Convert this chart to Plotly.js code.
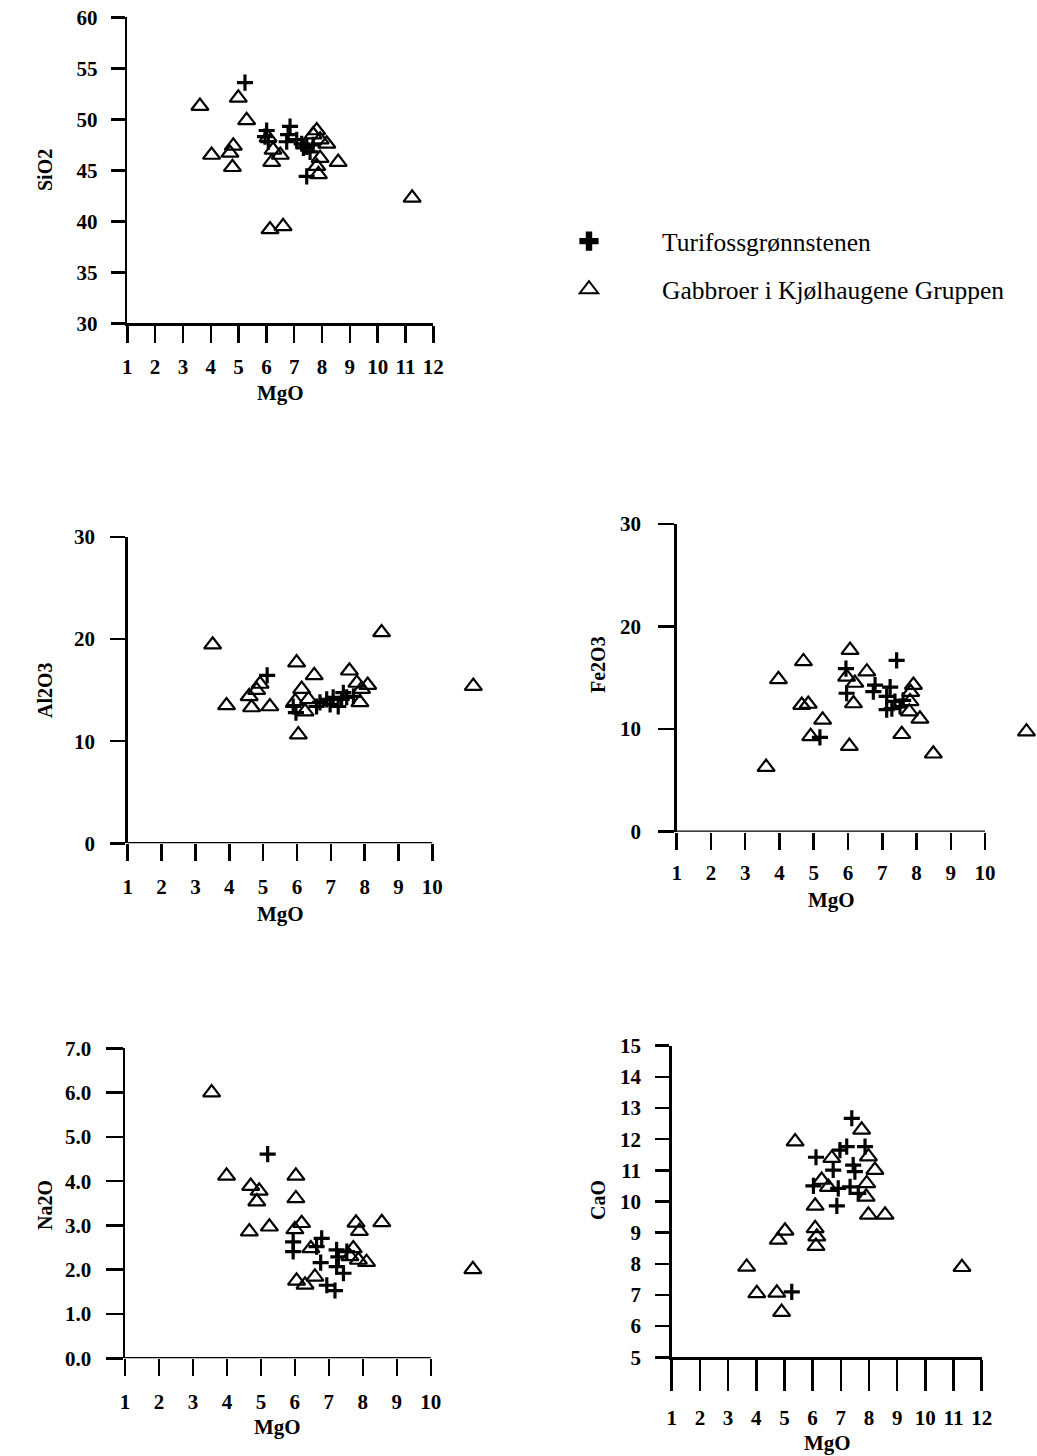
<!DOCTYPE html>
<html><head><meta charset="utf-8">
<script src="https://cdn.plot.ly/plotly-3.0.1.min.js"></script>
<style>html,body{margin:0;padding:0;background:#fff}</style>
</head><body><div id="chart" style="width:1037px;height:1456px"></div>
<script>
// ---------- DATA ----------
// x values are MgO (wt%)
const sio2TriMgO = [3.61,4.99,5.29,4.03,4.81,4.69,4.78,6.06,6.24,6.50,6.19,6.13,6.60,7.81,7.68,7.93,8.17,7.93,7.81,7.87,8.58,11.24];
const sio2Tri    = [51.3,52.1,49.9,46.5,47.4,46.7,45.3,48.2,47.0,46.5,45.8,39.2,39.5,48.9,48.5,48.0,47.6,46.2,45.4,44.6,45.8,42.3];
const sio2PlusMgO = [5.23,6.01,5.95,6.07,6.85,6.78,6.73,7.09,7.27,7.45,7.68,7.33,7.57,7.45];
const sio2Plus    = [53.6,48.9,48.3,47.8,49.3,48.5,47.8,48.0,47.6,47.3,47.5,47.2,46.8,44.4];

const al2o3TriMgO = [3.51,3.92,4.66,4.59,4.81,4.91,5.20,5.99,6.04,6.14,6.34,6.24,6.51,5.95,7.55,7.77,8.09,7.91,7.86,8.50,11.21];
const al2o3Tri    = [19.45,13.5,13.3,14.4,15.0,15.6,13.4,17.7,10.65,15.1,14.1,12.9,16.45,13.9,16.9,15.7,15.5,15.1,13.8,20.65,15.4];
const al2o3PlusMgO = [5.12,5.89,5.97,6.58,6.68,6.88,6.98,7.07,7.22,7.32,7.37,7.47,7.67];
const al2o3Plus    = [16.45,13.4,12.8,13.4,13.8,14.1,13.6,14.3,13.4,14.1,14.75,14.3,14.4];

const fe2o3TriMgO = [3.61,3.97,4.70,4.65,4.84,4.91,5.26,6.06,5.96,6.20,6.16,6.04,6.55,7.91,7.83,7.81,7.79,8.10,7.57,8.49,11.21];
const fe2o3Tri    = [6.3,14.85,16.6,12.35,12.45,9.3,10.9,17.7,15.1,14.5,12.5,8.35,15.6,14.3,13.6,12.7,11.7,11.0,9.5,7.6,9.75];
const fe2o3PlusMgO = [7.42,5.94,5.96,6.79,6.74,7.23,7.13,7.37,7.28,7.52,7.61,5.18,7.13];
const fe2o3Plus    = [16.7,15.9,13.5,14.3,13.65,14.1,13.2,12.7,12.0,12.2,12.8,9.2,11.9];

const na2oTriMgO = [3.55,3.99,4.70,4.95,4.88,4.66,5.25,6.03,6.03,6.00,6.20,6.05,6.30,6.59,6.47,7.80,7.90,8.56,7.72,7.62,7.87,8.11,11.24];
const na2oTri    = [6.0,4.12,3.89,3.78,3.54,2.86,2.97,4.12,3.61,2.91,3.05,1.75,1.66,1.84,2.48,3.06,2.87,3.07,2.48,2.30,2.22,2.17,2.01];
const na2oPlusMgO = [5.20,5.95,5.95,6.79,6.64,6.76,7.23,7.28,7.53,7.23,7.43,6.94,7.18];
const na2oPlus    = [4.61,2.63,2.41,2.71,2.52,2.16,2.45,2.29,2.41,2.07,1.92,1.65,1.53];

const caoTriMgO = [3.66,4.02,4.73,4.90,4.78,5.02,5.38,6.09,6.09,6.15,6.12,6.32,6.56,6.68,7.74,7.98,8.21,7.92,7.90,7.98,8.57,11.30];
const caoTri    = [7.9,7.05,7.07,6.45,8.77,9.06,11.92,9.86,9.14,8.87,8.57,10.69,10.46,11.39,12.3,11.44,11.01,10.58,10.15,9.57,9.57,7.89];
const caoPlusMgO = [7.39,6.12,6.97,7.21,7.86,6.73,7.44,7.50,6.03,6.91,7.33,7.62,6.86,5.26];
const caoPlus    = [12.67,11.42,11.65,11.76,11.76,11.01,11.17,10.96,10.5,10.42,10.47,10.26,9.86,7.1];

const seriesNames = ['Turifossgrønnstenen', 'Gabbroer i Kjølhaugene Gruppen'];
const mgoTicks12 = [1,2,3,4,5,6,7,8,9,10,11,12];
const mgoTicks10 = [1,2,3,4,5,6,7,8,9,10];
const sio2Ticks = [30,35,40,45,50,55,60];
const tens = [0,10,20,30];
const na2oTicks = [0,1,2,3,4,5,6,7];
const caoTicks = [5,6,7,8,9,10,11,12,13,14,15];

// ---------- STYLE ----------
const W = 1037, H = 1456;
const SERIF = 'Liberation Serif, Times New Roman, serif';
const BLACK = '#000';
const tickFont = {family: SERIF, size: 21, color: BLACK, weight: 'bold'};

function tri(x, y, n) {
  return {type:'scatter', mode:'markers', x:x, y:y, xaxis:'x'+n, yaxis:'y'+n,
    showlegend:false, cliponaxis:false, hoverinfo:'skip',
    marker:{symbol:'triangle-up-open', size:15, color:BLACK, line:{width:2.2, color:BLACK}}};
}
function plus(x, y, n) {
  return {type:'scatter', mode:'markers', x:x, y:y, xaxis:'x'+n, yaxis:'y'+n,
    showlegend:false, cliponaxis:false, hoverinfo:'skip',
    marker:{symbol:'cross-thin-open', size:11.5, color:BLACK, line:{width:3.2, color:BLACK}}};
}

const data = [
  tri(sio2TriMgO, sio2Tri, ''), plus(sio2PlusMgO, sio2Plus, ''),
  tri(al2o3TriMgO, al2o3Tri, 2), plus(al2o3PlusMgO, al2o3Plus, 2),
  tri(fe2o3TriMgO, fe2o3Tri, 3), plus(fe2o3PlusMgO, fe2o3Plus, 3),
  tri(na2oTriMgO, na2oTri, 4), plus(na2oPlusMgO, na2oPlus, 4),
  tri(caoTriMgO, caoTri, 5), plus(caoPlusMgO, caoPlus, 5),
  // legend entries
  {type:'scatter', mode:'markers', x:[null], y:[null], name:seriesNames[0], showlegend:true,
   legendgroup:'a', marker:{symbol:'cross', size:16, color:BLACK, line:{width:0}}},
  {type:'scatter', mode:'markers', x:[null], y:[null], name:seriesNames[1], showlegend:true,
   legendgroup:'b', marker:{symbol:'triangle-up-open', size:16, color:BLACK, line:{width:2, color:BLACK}}}
];

function px2dx(a, b) { return [a / W, b / W]; }
function px2dy(bottom, top) { return [1 - bottom / H, 1 - top / H]; }

function xax(domain, range, tickvals, ticklen, standoff, showline, anchor) {
  return {domain:domain, range:range, anchor:anchor, tickmode:'array', tickvals:tickvals,
    ticks:'outside', ticklen:ticklen, tickwidth:2.5, tickcolor:BLACK,
    showline:showline, linewidth:2.5, linecolor:BLACK, showgrid:false, zeroline:false,
    tickfont:tickFont, ticklabelstandoff:standoff, fixedrange:true};
}
function yax(domain, range, tickvals, ticklen, standoff, anchor, fmt) {
  return {domain:domain, range:range, anchor:anchor, tickmode:'array', tickvals:tickvals,
    ticks:'outside', ticklen:ticklen, tickwidth:2.5, tickcolor:BLACK,
    showline:true, linewidth:2.5, linecolor:BLACK, showgrid:false, zeroline:false,
    tickfont:tickFont, ticklabelstandoff:standoff, tickformat:fmt || '', fixedrange:true};
}

function title(text, x, y, rot) {
  return {text:text, x:x / W, y:1 - y / H, xref:'paper', yref:'paper', showarrow:false,
    xanchor:'center', yanchor:'middle', textangle:rot ? -90 : 0,
    font:{family:SERIF, size:rot ? 20 : 21, color:BLACK, weight:'bold'}};
}

function axisLine(n, x0, x1, y) {
  return {type:'line', xref:'x'+n, yref:'y'+n, x0:x0, x1:x1, y0:y, y1:y,
    line:{width:2.5, color:BLACK}};
}

const layout = {
  width:W, height:H, margin:{l:0, r:0, t:0, b:0},
  paper_bgcolor:'#fff', plot_bgcolor:'#fff',
  font:{family:SERIF, color:BLACK},
  xaxis:  xax(px2dx(127.3, 433.3), [1, 12], mgoTicks12, 17, 6, true, 'y'),
  yaxis:  yax(px2dy(323.3, 17.3), [30, 60], sio2Ticks, 14, 9, 'x'),
  xaxis2: xax(px2dx(127.7, 486.5), [1, 11.6], mgoTicks10, 17, 7, false, 'y2'),
  yaxis2: yax(px2dy(843.3, 537), [0, 30], tens, 15, 11, 'x2'),
  xaxis3: xax(px2dx(676.7, 1034.7), [1, 11.45], mgoTicks10, 17, 5, false, 'y3'),
  yaxis3: yax(px2dy(831.7, 524), [0, 30], tens, 16, 13, 'x3'),
  xaxis4: xax(px2dx(125, 485.1), [1, 11.6], mgoTicks10, 17, 7, false, 'y4'),
  yaxis4: yax(px2dy(1358.3, 1048.3), [0, 7], na2oTicks, 17, 10, 'x4', '.1f'),
  xaxis5: xax(px2dx(671.7, 981.7), [1, 12], mgoTicks12, 31, 9, true, 'y5'),
  yaxis5: yax(px2dy(1357.3, 1045.7), [5, 15], caoTicks, 14, 10, 'x5'),
  shapes: [axisLine(2, 1, 10, 0), axisLine(3, 1, 10, 0), axisLine(4, 1, 10, 0)],
  annotations: [
    title('MgO', 280, 393), title('SiO2', 45, 170, true),
    title('MgO', 280, 914), title('Al2O3', 45, 690, true),
    title('MgO', 831, 900), title('Fe2O3', 598, 665, true),
    title('MgO', 277, 1427), title('Na2O', 45, 1205, true),
    title('MgO', 827, 1443), title('CaO', 598, 1200, true)
  ],
  showlegend:true,
  legend:{x:516 / W, y:1 - 218 / H, xanchor:'left', yanchor:'top', bgcolor:'rgba(0,0,0,0)',
    font:{family:SERIF, size:25.5, color:BLACK}, itemwidth:136, tracegroupgap:12, traceorder:'grouped'}
};

Plotly.newPlot('chart', data, layout, {staticPlot:true, displayModeBar:false});
</script></body></html>
